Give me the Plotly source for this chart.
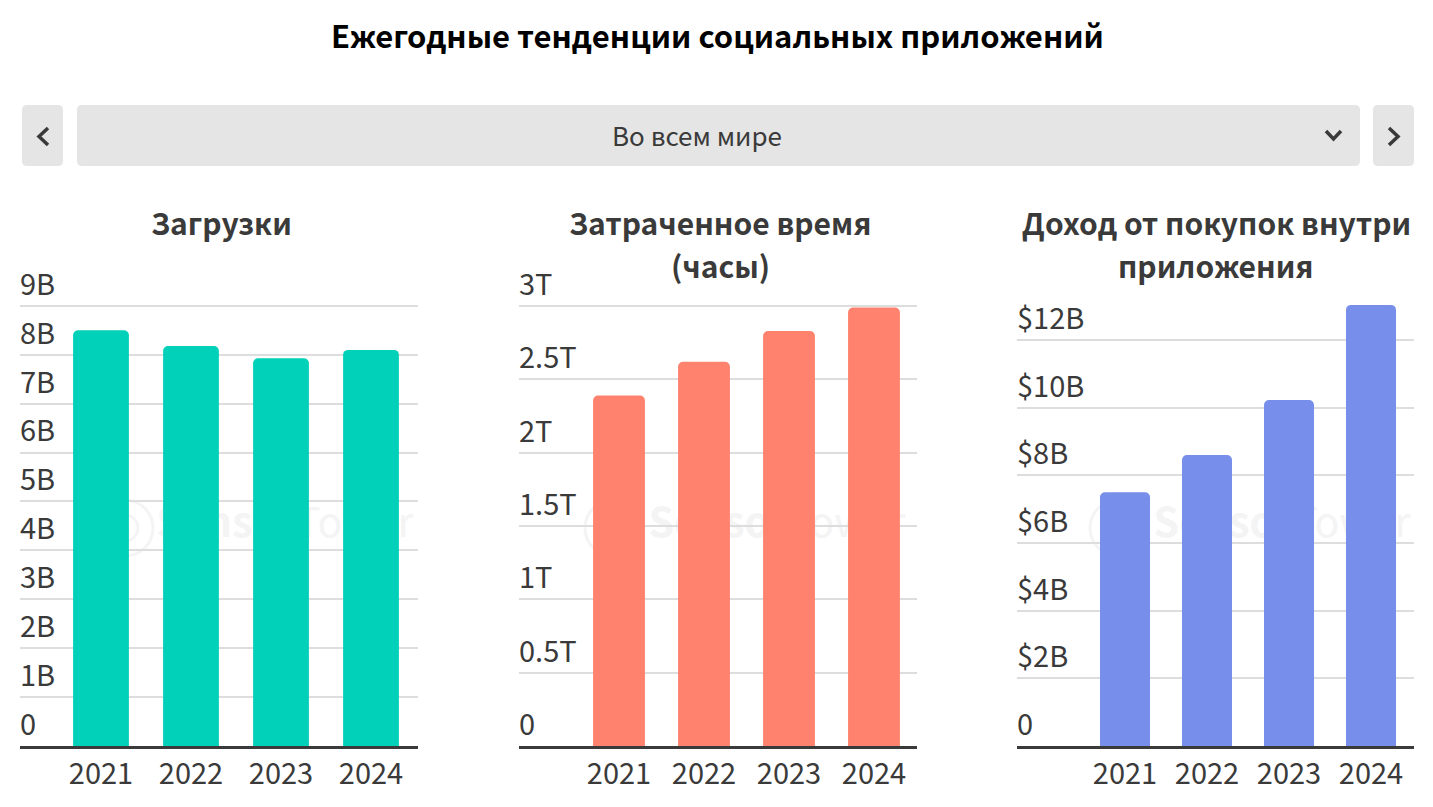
import plotly.graph_objects as go

WIDTH = 1433
HEIGHT = 807
FONT = "Noto Sans CJK SC"
DARK = "#3a3a3a"
GREY = "#e5e5e5"
MARK = "#f4f4f4"

years = ["2021", "2022", "2023", "2024"]

downloads = [8.5, 8.18, 7.93, 8.1]
download_ticks = [0, 1, 2, 3, 4, 5, 6, 7, 8, 9]
download_labels = ["0", "1B", "2B", "3B", "4B", "5B", "6B", "7B", "8B", "9B"]

hours = [2.39, 2.62, 2.83, 2.99]
hour_ticks = [0, 0.5, 1, 1.5, 2, 2.5, 3]
hour_labels = ["0", "0.5T", "1T", "1.5T", "2T", "2.5T", "3T"]

revenue = [7.5, 8.6, 10.23, 13.04]
revenue_ticks = [0, 2, 4, 6, 8, 10, 12]
revenue_labels = ["0", "$2B", "$4B", "$6B", "$8B", "$10B", "$12B"]


def px(x):
    return x / WIDTH


def py(y):
    return 1 - y / HEIGHT


def rounded(x0, y0, x1, y1, r=5):
    return dict(
        type="path", xref="paper", yref="paper", layer="below",
        fillcolor=GREY, line_width=0,
        path=(f"M {px(x0 + r)} {py(y0)} L {px(x1 - r)} {py(y0)} "
              f"Q {px(x1)} {py(y0)} {px(x1)} {py(y0 + r)} L {px(x1)} {py(y1 - r)} "
              f"Q {px(x1)} {py(y1)} {px(x1 - r)} {py(y1)} L {px(x0 + r)} {py(y1)} "
              f"Q {px(x0)} {py(y1)} {px(x0)} {py(y1 - r)} L {px(x0)} {py(y0 + r)} "
              f"Q {px(x0)} {py(y0)} {px(x0 + r)} {py(y0)} Z"),
    )


def chevron(points):
    path = "M " + " L ".join(f"{px(x)} {py(y)}" for x, y in points)
    return dict(type="path", xref="paper", yref="paper", path=path,
                line=dict(color=DARK, width=3.5))


def circle(cx, cy, r):
    return dict(type="circle", xref="paper", yref="paper", layer="below",
                x0=px(cx - r), x1=px(cx + r), y0=py(cy + r), y1=py(cy - r),
                line=dict(color=MARK, width=3))


def label(text, x, y, size, color=DARK):
    return dict(text=text, x=px(x), y=py(y), xref="paper", yref="paper",
                showarrow=False, xanchor="center", yanchor="middle",
                font=dict(family=FONT, size=size, color=color))


fig = go.Figure()

# watermark sits in its own subplot so the bars cover it
fig.add_trace(go.Scatter(
    x=[285, 777, 1282], y=[527, 527, 527], mode="text",
    text=["<b>Sensor</b>Tower"] * 3,
    textfont=dict(family=FONT, size=41, color=MARK),
    hoverinfo="skip", showlegend=False, xaxis="x", yaxis="y",
))
fig.update_layout(
    xaxis=dict(range=[0, WIDTH], domain=[0, 1], visible=False),
    yaxis=dict(range=[HEIGHT, 0], domain=[0, 1], visible=False),
)

# plot areas run up past the top gridline so its tick label still shows
charts = [
    (downloads, download_ticks, download_labels, "#00d1b8", 20, 418, 245, 10.245, 101, 90, 0.62),
    (hours, hour_ticks, hour_labels, "#ff826e", 519, 917, 245, 3.416, 619, 85, 0.61),
    (revenue, revenue_ticks, revenue_labels, "#788eeb", 1017, 1414, 245, 14.81, 1125, 82, 0.61),
]

for n, (vals, ticks, labels, color, left, right, top, ymax, first, step, bar_w) in enumerate(charts, start=2):
    fig.add_trace(go.Bar(
        x=years, y=vals, width=bar_w, marker=dict(color=color, cornerradius=5, line_width=0),
        showlegend=False, xaxis=f"x{n}", yaxis=f"y{n}",
    ))
    fig.update_layout({
        f"xaxis{n}": dict(
            type="category", domain=[px(left), px(right)], anchor=f"y{n}",
            range=[(left - first) / step, (right - first) / step],
            showline=True, linecolor=DARK, linewidth=3, ticks="", showgrid=False,
            tickfont=dict(family=FONT, size=29, color=DARK),
        ),
        f"yaxis{n}": dict(
            domain=[py(746), py(top)], anchor=f"x{n}", range=[0, ymax],
            tickvals=ticks, ticktext=labels, ticklabelposition="inside top",
            ticklabelstandoff=-3, ticklabelshift=-1,
            showgrid=True, gridcolor="#dddddd", gridwidth=1.5, zeroline=False,
            ticks="", tickfont=dict(family=FONT, size=29, color=DARK),
        ),
    })

fig.update_layout(
    width=WIDTH, height=HEIGHT,
    margin=dict(l=0, r=0, t=0, b=0),
    paper_bgcolor="white", plot_bgcolor="rgba(0,0,0,0)",
    shapes=[
        rounded(22, 105, 63, 166),
        rounded(77, 105, 1360, 166),
        rounded(1373, 105, 1414, 166),
        chevron([(48, 128), (39, 136.5), (48, 145)]),
        chevron([(1326, 131), (1333.5, 139), (1341, 131)]),
        chevron([(1389, 128), (1398, 136.5), (1389, 145)]),
        circle(125, 528, 28), circle(125, 528, 13),
        circle(613, 528, 28), circle(613, 528, 13),
        circle(1118, 528, 28), circle(1118, 528, 13),
    ],
    annotations=[
        label("<b>Ежегодные тенденции социальных приложений</b>", 717, 35, 31, "#000000"),
        label("Во всем мире", 697, 134.5, 26),
        label("<b>Загрузки</b>", 221, 222, 30),
        label("<b>Затраченное время</b>", 720, 222, 30),
        label("<b>(часы)</b>", 720, 265, 30),
        label("<b>Доход от покупок внутри</b>", 1216, 222, 30),
        label("<b>приложения</b>", 1216, 265, 30),
    ],
)

fig.write_html("out.html", post_script="document.body.style.margin='0';",
               config=dict(displayModeBar=False))
